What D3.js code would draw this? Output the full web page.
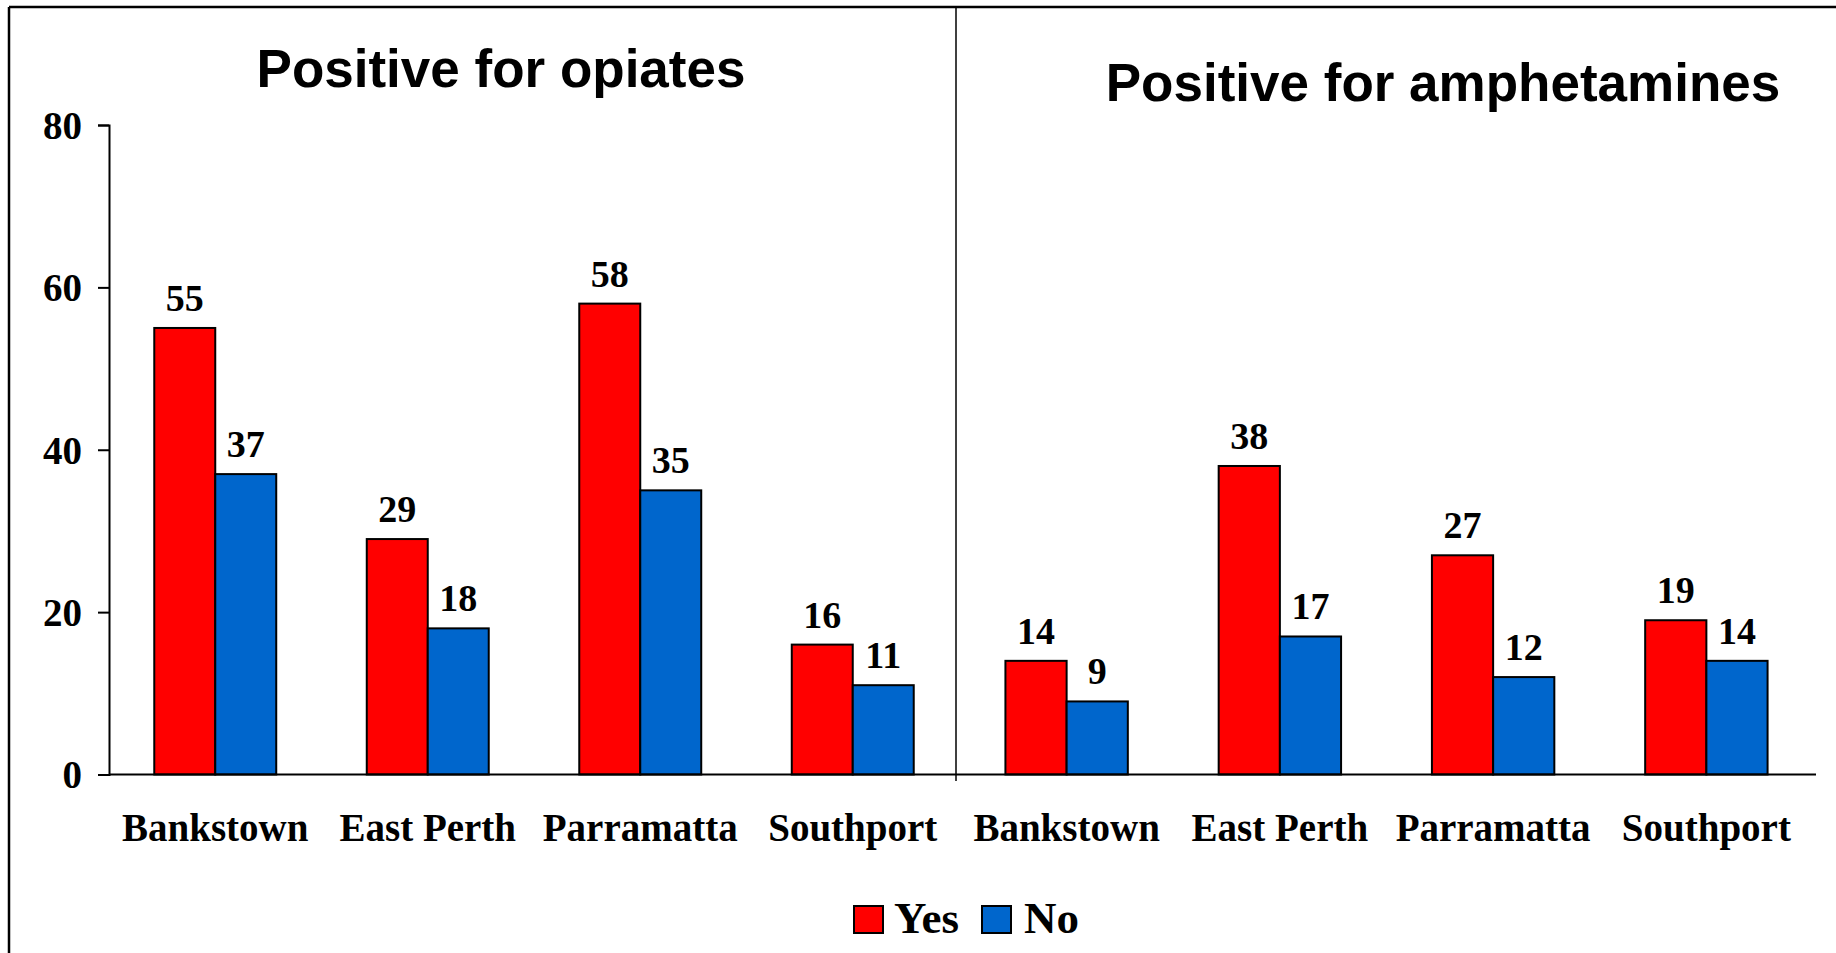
<!DOCTYPE html>
<html>
<head>
<meta charset="utf-8">
<script src="https://cdn.jsdelivr.net/npm/d3@7"></script>
<style>
  html, body { margin: 0; padding: 0; background: #fff; }
  svg { display: block; }
</style>
</head>
<body>
<svg id="chart" width="1836" height="953"></svg>
<script>
// ---- Data ----
const categories = ["Bankstown", "East Perth", "Parramatta", "Southport"];
const seriesNames = ["Yes", "No"];
const opiatesYes = [55, 29, 58, 16];
const opiatesNo = [37, 18, 35, 11];
const amphetaminesYes = [14, 38, 27, 19];
const amphetaminesNo = [9, 17, 12, 14];
const panelTitles = ["Positive for opiates", "Positive for amphetamines"];
const yTicks = [0, 20, 40, 60, 80];
const colors = { Yes: "#FF0000", No: "#0066CC" };

const panels = [
  { title: panelTitles[0], yes: opiatesYes, no: opiatesNo, x0: 109, x1: 959, titleX: 501, titleY: 87 },
  { title: panelTitles[1], yes: amphetaminesYes, no: amphetaminesNo, x0: 960, x1: 1813, titleX: 1443, titleY: 101 }
];

const svg = d3.select("#chart");
const serif = "'Liberation Serif', 'Times New Roman', serif";
const sans = "'Liberation Sans', Arial, sans-serif";

const y = d3.scaleLinear().domain([0, 80]).range([774.5, 125]);

// Frame
svg.append("line").attr("x1", 9).attr("x2", 1836).attr("y1", 7).attr("y2", 7)
  .attr("stroke", "#000").attr("stroke-width", 2.5);
svg.append("line").attr("x1", 9).attr("x2", 9).attr("y1", 7).attr("y2", 953)
  .attr("stroke", "#000").attr("stroke-width", 2.5);
// Divider
svg.append("line").attr("x1", 956).attr("x2", 956).attr("y1", 7).attr("y2", 781)
  .attr("stroke", "#000").attr("stroke-width", 1.5);

// Y axis
const yAxis = d3.axisLeft(y).tickValues(yTicks).tickSize(11).tickPadding(16).tickFormat(d3.format("d"));
const gy = svg.append("g").attr("transform", "translate(109,0)").call(yAxis);
gy.select(".domain").attr("stroke", "#000").attr("stroke-width", 2);
gy.selectAll(".tick line").attr("stroke", "#000").attr("stroke-width", 2);
gy.selectAll(".tick text").attr("font-family", serif).attr("font-weight", "bold")
  .attr("font-size", 39).attr("fill", "#000").attr("dy", "0.34em");

panels.forEach(p => {
  const x = d3.scaleBand().domain(categories).range([p.x0, p.x1])
    .paddingInner(0.426).paddingOuter(0.213);
  const xs = d3.scaleBand().domain(seriesNames).range([0, x.bandwidth()]);
  const rows = categories.map((c, i) => ({ c, Yes: p.yes[i], No: p.no[i] }));

  const g = svg.append("g");
  const groups = g.selectAll("g.grp").data(rows).enter().append("g")
    .attr("transform", d => `translate(${x(d.c)},0)`);

  groups.selectAll("rect").data(d => seriesNames.map(s => ({ s, v: d[s] }))).enter()
    .append("rect")
    .attr("x", d => xs(d.s))
    .attr("width", xs.bandwidth())
    .attr("y", d => y(d.v))
    .attr("height", d => y(0) - y(d.v))
    .attr("fill", d => colors[d.s])
    .attr("stroke", "#000").attr("stroke-width", 2);

  groups.selectAll("text.val").data(d => seriesNames.map(s => ({ s, v: d[s] }))).enter()
    .append("text")
    .attr("x", d => xs(d.s) + xs.bandwidth() / 2)
    .attr("y", d => y(d.v) - 17)
    .attr("text-anchor", "middle")
    .attr("font-family", serif).attr("font-weight", "bold").attr("font-size", 38)
    .text(d => d.v);

  // Category labels
  const xAxis = d3.axisBottom(x).tickSize(0).tickPadding(0);
  const gx = svg.append("g").attr("transform", "translate(0,774.5)").call(xAxis);
  gx.select(".domain").remove();
  gx.selectAll(".tick text").attr("font-family", serif).attr("font-weight", "bold")
    .attr("font-size", 39).attr("fill", "#000").attr("dy", 0).attr("y", 66);

  // Title
  svg.append("text").attr("x", p.titleX).attr("y", p.titleY).attr("text-anchor", "middle")
    .attr("font-family", sans).attr("font-weight", "bold").attr("font-size", 53)
    .text(p.title);
});

// Baseline
svg.append("line").attr("x1", 109).attr("x2", 1816).attr("y1", y(0)).attr("y2", y(0))
  .attr("stroke", "#000").attr("stroke-width", 2);

// Legend
const legendItems = [
  { s: "Yes", rx: 854, tx: 894 },
  { s: "No", rx: 982, tx: 1024 }
];
const lg = svg.append("g");
lg.selectAll("rect").data(legendItems).enter().append("rect")
  .attr("x", d => d.rx).attr("y", 906).attr("width", 29).attr("height", 27)
  .attr("fill", d => colors[d.s]).attr("stroke", "#000").attr("stroke-width", 2);
lg.selectAll("text").data(legendItems).enter().append("text")
  .attr("x", d => d.tx).attr("y", 933)
  .attr("font-family", serif).attr("font-weight", "bold").attr("font-size", 45)
  .text(d => d.s);
</script>
</body>
</html>
